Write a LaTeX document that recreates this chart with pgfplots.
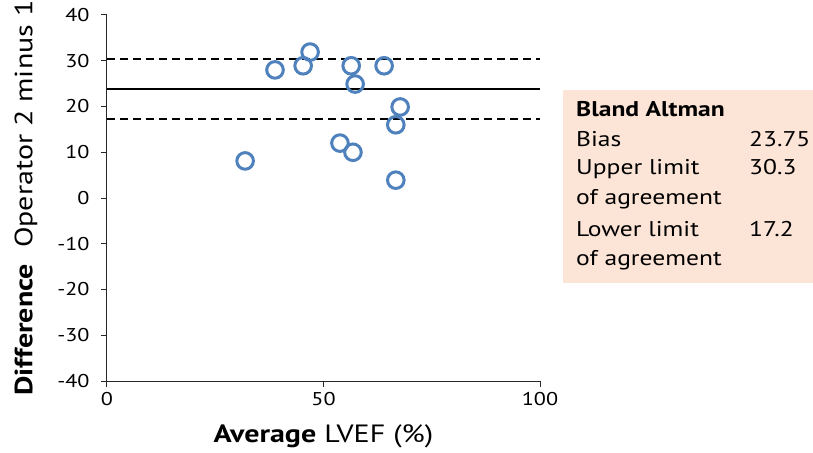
\documentclass[border=0pt]{standalone}
\usepackage{pgfplots}
\pgfplotsset{compat=1.18}
\usepackage{fontspec}
\setmainfont{PT Sans}[FakeStretch=1.2]
\definecolor{ptblue}{HTML}{4F81BD}
\definecolor{boxfill}{HTML}{FCE4D6}
\newcommand{\ticksize}{\fontsize{18.5bp}{22bp}\selectfont}
\newcommand{\labsize}{\fontsize{25bp}{30bp}\selectfont}
\newcommand{\boxsize}{\fontsize{21.3bp}{25bp}\selectfont}
\begin{document}
\begin{tikzpicture}
\begin{axis}[
  scale only axis, width=433bp, height=366bp,
  xmin=0, xmax=100, ymin=-40, ymax=40,
  xtick={0,50,100}, ytick={-40,-30,...,40},
  axis lines*=left, axis line style={black!85, line width=1pt},
  tick align=outside, major tick length=6bp,
  tick style={black!85, line width=1pt},
  /pgf/number format/assume math mode=true,
  tick label style={font=\ticksize},
  y tick label style={xshift=-8bp},
  x tick label style={yshift=-2bp},
  xlabel={\textbf{Average} LVEF (\%)},
  ylabel={\textbf{Difference}\ \ Operator 2 minus 1},
  label style={font=\labsize},
  xlabel style={at={(axis description cs:0.5,0)}, anchor=base, yshift=-61bp},
  ylabel style={at={(axis description cs:0,0.5)}, anchor=center, yshift=81bp},
  clip=false,
]
\addplot[black, line width=2pt, forget plot] coordinates {(0,23.75)(100,23.75)};
\addplot[black, line width=2pt, dash pattern=on 8bp off 5bp, forget plot] coordinates {(0,30.3)(100,30.3)};
\addplot[black, line width=2pt, dash pattern=on 8bp off 5bp, forget plot] coordinates {(0,17.2)(100,17.2)};
\addplot[only marks, mark=o, mark size=8.3bp, ptblue, mark options={line width=3bp}]
  coordinates {(31.9,8.1)(38.8,28)(45.3,28.9)(46.9,31.9)(56.4,28.9)(57.3,24.9)(64.0,28.9)(53.8,12)(56.8,10)(67.7,19.9)(66.7,16)(66.7,3.9)};
\end{axis}
% summary box, positions in bp from the axis' lower left corner
\fill[boxfill] (456bp,98bp) rectangle (710bp,291bp);
\begin{scope}[every node/.style={anchor=base west, inner sep=0pt, font=\boxsize}]
\node at (469bp,264bp) {\textbf{Bland Altman}};
\node at (469bp,234bp) {Bias};
\node at (642bp,234bp) {23.75};
\node at (469bp,206bp) {Upper limit};
\node at (642bp,206bp) {30.3};
\node at (469bp,176bp) {of agreement};
\node at (469bp,144bp) {Lower limit};
\node at (642bp,144bp) {17.2};
\node at (469bp,115bp) {of agreement};
\end{scope}
\pgfresetboundingbox
\path[use as bounding box] (-107bp,-72bp) rectangle (706bp,381bp);
\end{tikzpicture}
\end{document}
